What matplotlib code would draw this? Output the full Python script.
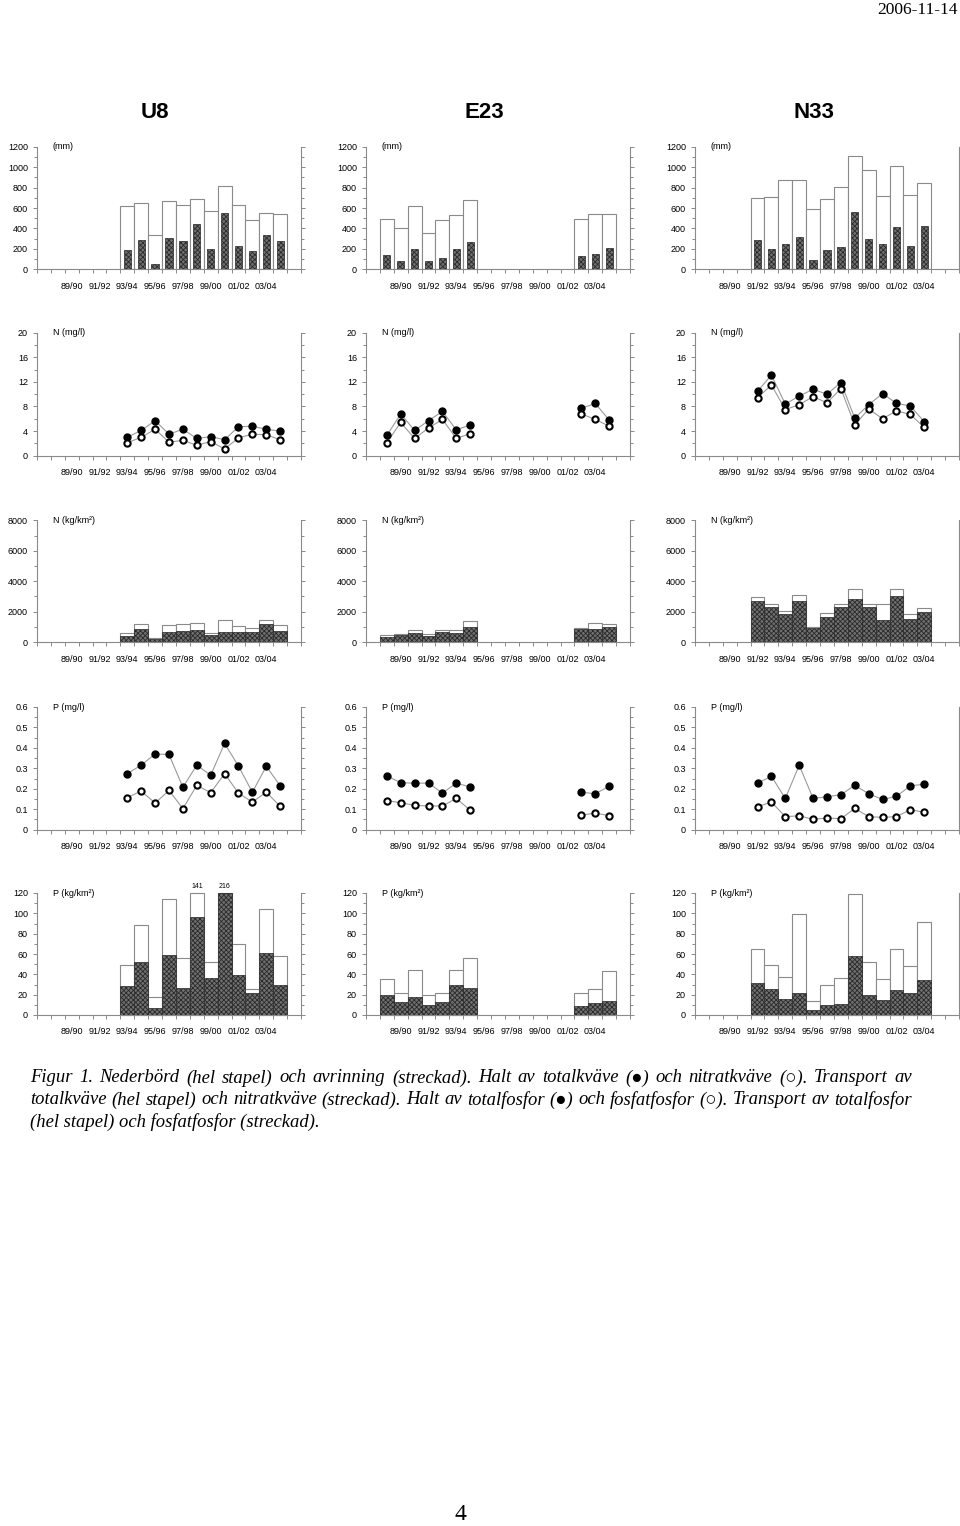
import numpy as np
import matplotlib
matplotlib.use("Agg")
import matplotlib.pyplot as plt

plt.rcParams['font.family'] = ['Liberation Sans', 'DejaVu Sans']
plt.rcParams['hatch.linewidth'] = 0.6

# seasons: slot 0 = 87/88 ... slot 18 = 05/06
seasons = ['87/88', '88/89', '89/90', '90/91', '91/92', '92/93', '93/94', '94/95', '95/96',
           '96/97', '97/98', '98/99', '99/00', '00/01', '01/02', '02/03', '03/04', '04/05', '05/06']
tick_labels = ['89/90', '91/92', '93/94', '95/96', '97/98', '99/00', '01/02', '03/04']
nan = np.nan

# ---- U8: 93/94 .. 04/05
u8_start = '93/94'
u8_precip = [620, 650, 335, 670, 625, 690, 575, 820, 625, 480, 555, 540]
u8_runoff = [185, 285, 50, 310, 275, 445, 200, 550, 225, 180, 340, 280]
u8_totN = [3.0, 4.1, 5.7, 3.5, 4.3, 2.8, 3.1, 2.6, 4.7, 4.8, 4.3, 4.0]
u8_no3N = [2.1, 3.0, 4.3, 2.2, 2.5, 1.7, 2.3, 1.1, 2.9, 3.5, 3.4, 2.6]
u8_totN_tr = [570, 1160, 240, 1100, 1205, 1250, 615, 1450, 1030, 900, 1450, 1100]
u8_no3N_tr = [415, 875, 230, 680, 700, 790, 480, 635, 660, 635, 1180, 745]
u8_totP = [0.274, 0.316, 0.370, 0.368, 0.207, 0.316, 0.266, 0.422, 0.311, 0.183, 0.310, 0.215]
u8_po4P = [0.157, 0.189, 0.130, 0.192, 0.103, 0.217, 0.181, 0.274, 0.179, 0.135, 0.184, 0.114]
u8_totP_tr = [49, 89, 18, 114, 56, 141, 52, 216, 70, 26, 104, 58]
u8_po4P_tr = [29, 52, 7, 59, 27, 96, 36, 125, 39, 22, 61, 30]

# ---- E23: 88/89 .. 04/05 (gap 95/96 .. 01/02)
e23_start = '88/89'
e23_precip = [490, 405, 615, 360, 480, 535, 675, nan, nan, nan, nan, nan, nan, nan, 490, 545, 540]
e23_runoff = [140, 80, 195, 85, 110, 195, 270, nan, nan, nan, nan, nan, nan, nan, 130, 145, 205]
e23_totN = [3.3, 6.8, 4.1, 5.7, 7.2, 4.2, 5.0, nan, nan, nan, nan, nan, nan, nan, 7.7, 8.5, 5.8]
e23_no3N = [2.1, 5.4, 2.8, 4.5, 5.9, 2.8, 3.6, nan, nan, nan, nan, nan, nan, nan, 6.8, 5.9, 4.8]
e23_totN_tr = [440, 550, 810, 500, 770, 810, 1360, nan, nan, nan, nan, nan, nan, nan, 940, 1230, 1160]
e23_no3N_tr = [310, 440, 590, 415, 680, 570, 1010, nan, nan, nan, nan, nan, nan, nan, 830, 830, 985]
e23_totP = [0.263, 0.230, 0.227, 0.228, 0.179, 0.228, 0.209, nan, nan, nan, nan, nan, nan, nan, 0.183, 0.176, 0.212]
e23_po4P = [0.142, 0.132, 0.119, 0.116, 0.116, 0.153, 0.095, nan, nan, nan, nan, nan, nan, nan, 0.070, 0.082, 0.068]
e23_totP_tr = [35, 22, 44, 20, 22, 44, 56, nan, nan, nan, nan, nan, nan, nan, 22, 26, 43]
e23_po4P_tr = [20, 13, 18, 10, 13, 30, 27, nan, nan, nan, nan, nan, nan, nan, 9, 12, 14]

# ---- N33: 91/92 .. 03/04
n33_start = '91/92'
n33_precip = [695, 705, 875, 870, 595, 690, 810, 1110, 970, 720, 1015, 730, 845]
n33_runoff = [285, 195, 245, 320, 95, 185, 215, 565, 300, 245, 410, 230, 420]
n33_totN = [10.5, 13.1, 8.4, 9.7, 10.8, 10.0, 11.9, 6.1, 8.3, 10.1, 8.5, 8.1, 5.5]
n33_no3N = [9.4, 11.5, 7.5, 8.3, 9.6, 8.6, 10.9, 5.0, 7.6, 6.0, 7.3, 6.7, 4.6]
n33_totN_tr = [2980, 2520, 2015, 3110, 965, 1885, 2520, 3460, 2520, 2475, 3460, 1860, 2255]
n33_no3N_tr = [2670, 2280, 1860, 2670, 900, 1620, 2320, 2830, 2300, 1470, 3020, 1510, 1950]
n33_totP = [0.228, 0.261, 0.153, 0.315, 0.153, 0.161, 0.171, 0.217, 0.176, 0.148, 0.163, 0.215, 0.222]
n33_po4P = [0.113, 0.135, 0.064, 0.068, 0.051, 0.057, 0.054, 0.104, 0.064, 0.060, 0.064, 0.098, 0.085]
n33_totP_tr = [65, 49, 37, 99, 14, 30, 36, 119, 52, 35, 65, 48, 91]
n33_po4P_tr = [31, 26, 16, 22, 5, 10, 11, 58, 20, 15, 25, 22, 34]

stations = [
    ('U8', u8_start, u8_precip, u8_runoff, u8_totN, u8_no3N, u8_totN_tr, u8_no3N_tr,
     u8_totP, u8_po4P, u8_totP_tr, u8_po4P_tr),
    ('E23', e23_start, e23_precip, e23_runoff, e23_totN, e23_no3N, e23_totN_tr, e23_no3N_tr,
     e23_totP, e23_po4P, e23_totP_tr, e23_po4P_tr),
    ('N33', n33_start, n33_precip, n33_runoff, n33_totN, n33_no3N, n33_totN_tr, n33_no3N_tr,
     n33_totP, n33_po4P, n33_totP_tr, n33_po4P_tr),
]

caption_lines = [
    "Figur 1. Nederbörd (hel stapel) och avrinning (streckad). Halt av totalkväve (●) och nitratkväve (○). Transport av",
    "totalkväve (hel stapel) och nitratkväve (streckad). Halt av totalfosfor (●) och fosfatfosfor (○). Transport av totalfosfor",
    "(hel stapel) och fosfatfosfor (streckad).",
]

W, H = 960, 1526
fig = plt.figure(figsize=(W / 100, H / 100), dpi=100)

col_left = [37, 366, 695]
col_width = 264
rows = [(146.7, 269.3), (332.7, 455.7), (520.3, 642.0), (707.0, 829.7), (893.0, 1015.0)]
title_x = [155, 484, 814]

grey = '#8a8a8a'
hatch_face = '#707070'
hatch_edge = '#2a2a2a'


def make_ax(col, row):
    top, bottom = rows[row]
    ax = fig.add_axes([col_left[col] / W, 1 - bottom / H, col_width / W, (bottom - top) / H])
    ax.set_xlim(0, len(seasons))
    for s in ['left', 'right', 'bottom']:
        ax.spines[s].set_color(grey)
        ax.spines[s].set_linewidth(0.8)
    ax.spines['top'].set_visible(False)
    ax.set_xticks(np.arange(len(seasons) + 1), minor=True)
    ax.set_xticks([seasons.index(t) + 0.5 for t in tick_labels])
    ax.set_xticklabels(tick_labels)
    ax.tick_params(axis='x', which='major', length=0, pad=9, labelsize=6.5)
    ax.tick_params(axis='x', which='minor', length=3, color=grey, width=0.7)
    ax.tick_params(axis='y', which='both', left=True, right=True, color=grey, width=0.7, labelsize=6.5)
    ax.tick_params(axis='y', which='major', length=3)
    ax.tick_params(axis='y', which='minor', length=2)
    return ax


def yscale(ax, top, step, minor, label, fmt=None):
    ax.set_ylim(0, top)
    ticks = np.arange(0, top + step / 2, step)
    ax.set_yticks(ticks)
    ax.set_yticks(np.arange(0, top + minor / 2, minor), minor=True)
    if fmt:
        ax.set_yticklabels([fmt(t) for t in ticks])
    ax.text(0.06, 1.0, label, transform=ax.transAxes, fontsize=6.5, va='center', ha='left')


def xpos(start, n):
    i0 = seasons.index(start)
    return np.arange(i0, i0 + n) + 0.5


for c, st in enumerate(stations):
    (name, start, precip, runoff, totN, no3N, totN_tr, no3N_tr,
     totP, po4P, totP_tr, po4P_tr) = st
    x = xpos(start, len(precip))

    fig.text(title_x[c] / W, 1 - 113 / H, name, fontsize=16, fontweight='bold',
             ha='center', va='center')

    # precipitation / runoff
    ax = make_ax(c, 0)
    ax.bar(x, precip, width=1.0, facecolor='white', edgecolor=grey, linewidth=0.8)
    ax.bar(x, runoff, width=0.52, facecolor=hatch_face, edgecolor=hatch_edge,
           hatch='xxxxxxx', linewidth=0.5)
    yscale(ax, 1200, 200, 100, '(mm)')

    # N concentration
    ax = make_ax(c, 1)
    ax.plot(x, totN, color='#9a9a9a', lw=0.8, zorder=2)
    ax.plot(x, no3N, color='#9a9a9a', lw=0.8, zorder=2)
    ax.plot(x, totN, 'o', color='black', ms=5, zorder=3)
    ax.plot(x, no3N, 'o', mfc='white', mec='black', mew=1.5, ms=4.5, zorder=3)
    yscale(ax, 20, 4, 2, 'N (mg/l)')

    # N transport
    ax = make_ax(c, 2)
    ax.bar(x, totN_tr, width=1.0, facecolor='white', edgecolor=grey, linewidth=0.8)
    ax.bar(x, no3N_tr, width=1.0, facecolor=hatch_face, edgecolor=hatch_edge,
           hatch='xxxxxxx', linewidth=0.5)
    yscale(ax, 8000, 2000, 1000, 'N (kg/km²)')

    # P concentration
    ax = make_ax(c, 3)
    ax.plot(x, totP, color='#9a9a9a', lw=0.8, zorder=2)
    ax.plot(x, po4P, color='#9a9a9a', lw=0.8, zorder=2)
    ax.plot(x, totP, 'o', color='black', ms=5, zorder=3)
    ax.plot(x, po4P, 'o', mfc='white', mec='black', mew=1.5, ms=4.5, zorder=3)
    yscale(ax, 0.6, 0.1, 0.05, 'P (mg/l)',
           fmt=lambda t: '0' if t == 0 else ('%.1f' % t))

    # P transport (values above 120 are clipped and written out)
    ax = make_ax(c, 4)
    ax.bar(x, np.minimum(totP_tr, 120), width=1.0, facecolor='white', edgecolor=grey,
           linewidth=0.8, clip_on=False)
    ax.bar(x, np.minimum(po4P_tr, 120), width=1.0, facecolor=hatch_face,
           edgecolor=hatch_edge, hatch='xxxxxxx', linewidth=0.5, clip_on=False)
    for xi, v in zip(x, totP_tr):
        if v > 120:
            ax.text(xi, 123, '%d' % v, fontsize=5, ha='center', va='bottom')
    yscale(ax, 120, 20, 10, 'P (kg/km²)')

fig.text(958 / W, 1 - 10 / H, '2006-11-14', fontsize=12.5, ha='right', va='center',
         family=['Liberation Serif', 'DejaVu Serif'])

# caption, justified between x=30 and x=912 (last line left aligned)
cap_left, cap_right = 30, 912
cap_y = [1078, 1100, 1122]
cap_font = dict(fontsize=13.4, style='italic', va='center', ha='left',
                family=['Liberation Serif', 'DejaVu Sans'])
renderer = fig.canvas.get_renderer()
for i, line in enumerate(caption_lines):
    y = 1 - cap_y[i] / H
    if i == len(caption_lines) - 1:
        fig.text(cap_left / W, y, line, **cap_font)
        continue
    words = line.split(' ')
    objs = [fig.text(0, y, w, **cap_font) for w in words]
    widths = [o.get_window_extent(renderer).width for o in objs]
    gap = (cap_right - cap_left - sum(widths)) / (len(words) - 1)
    xcur = cap_left
    for o, w in zip(objs, widths):
        o.set_x(xcur / W)
        xcur += w + gap

fig.text(460 / W, 1 - 1515 / H, '4', fontsize=17, ha='center', va='center',
         family=['Liberation Serif', 'DejaVu Serif'])

fig.savefig('out.png', dpi=100)
